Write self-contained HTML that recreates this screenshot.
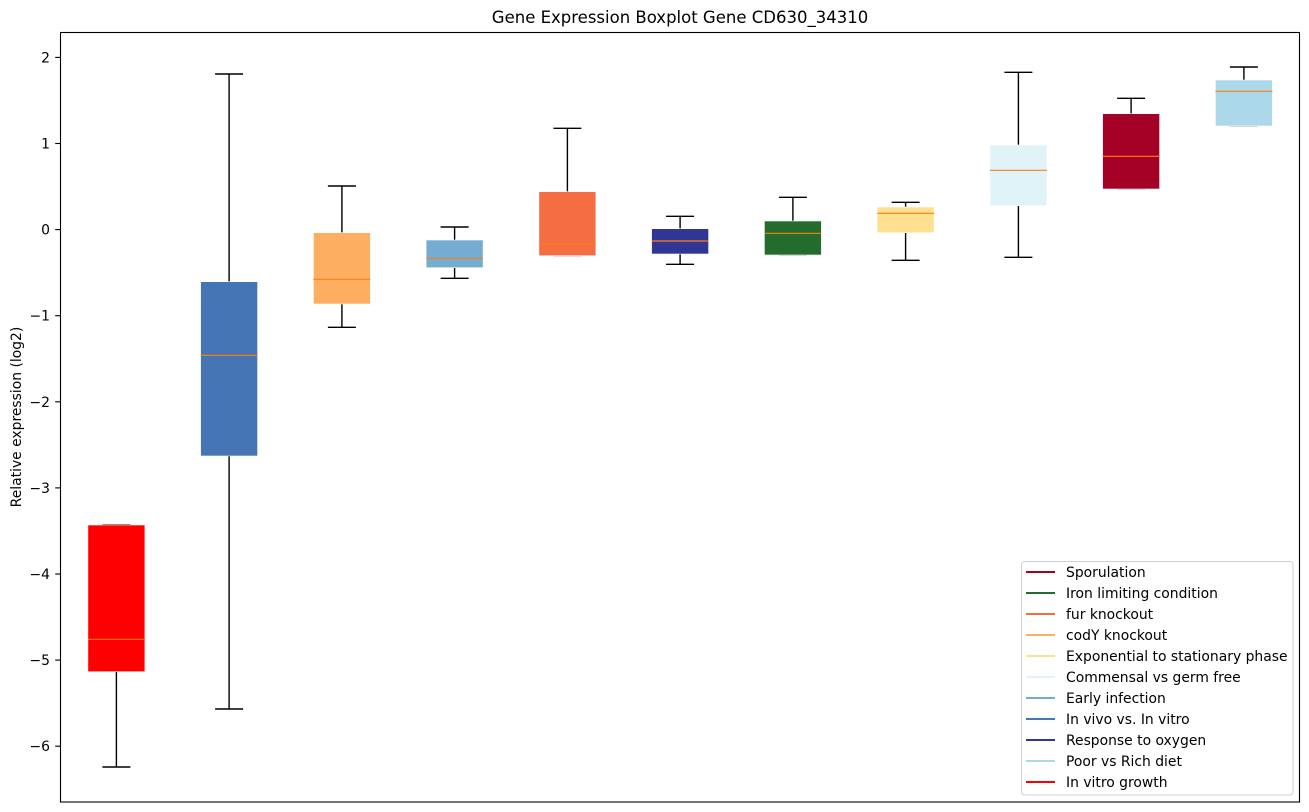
<!DOCTYPE html>
<html>
<head>
<meta charset="utf-8">
<style>
html,body{margin:0;padding:0;background:#fff;}
svg{display:block;}
text{font-family:"DejaVu Sans","Liberation Sans",sans-serif;fill:#000;}
</style>
</head>
<body>
<svg width="1309" height="812" viewBox="0 0 1309 812" xmlns="http://www.w3.org/2000/svg">
<rect width="1309" height="812" fill="#fff"/>
<!-- title -->
<text x="680" y="23" font-size="16.5" text-anchor="middle">Gene Expression Boxplot Gene CD630_34310</text>
<!-- y label -->
<text transform="translate(21,417) rotate(-90)" font-size="13.9" text-anchor="middle">Relative expression (log2)</text>

<!-- y ticks -->
<g stroke="#000" stroke-width="1.1">
<line x1="55.2" y1="57.4" x2="60" y2="57.4"/>
<line x1="55.2" y1="143.5" x2="60" y2="143.5"/>
<line x1="55.2" y1="229.6" x2="60" y2="229.6"/>
<line x1="55.2" y1="315.7" x2="60" y2="315.7"/>
<line x1="55.2" y1="401.8" x2="60" y2="401.8"/>
<line x1="55.2" y1="487.9" x2="60" y2="487.9"/>
<line x1="55.2" y1="574.0" x2="60" y2="574.0"/>
<line x1="55.2" y1="660.1" x2="60" y2="660.1"/>
<line x1="55.2" y1="746.2" x2="60" y2="746.2"/>
</g>
<g font-size="13.9" text-anchor="end">
<text x="50" y="62.4">2</text>
<text x="50" y="148.5">1</text>
<text x="50" y="234.6">0</text>
<text x="50" y="320.7">−1</text>
<text x="50" y="406.8">−2</text>
<text x="50" y="492.9">−3</text>
<text x="50" y="579.0">−4</text>
<text x="50" y="665.1">−5</text>
<text x="50" y="751.2">−6</text>
</g>

<!-- whiskers and caps -->
<g stroke="#000" stroke-width="1.4" fill="none">
<!-- 1 -->
<line x1="116.4" y1="671.7" x2="116.4" y2="767"/>
<line x1="102.4" y1="767" x2="130.4" y2="767"/>
<line x1="102.4" y1="525" x2="130.4" y2="525"/>
<!-- 2 -->
<line x1="229.1" y1="74" x2="229.1" y2="709"/>
<line x1="215.1" y1="74" x2="243.1" y2="74"/>
<line x1="215.1" y1="709" x2="243.1" y2="709"/>
<!-- 3 -->
<line x1="341.9" y1="186" x2="341.9" y2="327.3"/>
<line x1="327.9" y1="186" x2="355.9" y2="186"/>
<line x1="327.9" y1="327.3" x2="355.9" y2="327.3"/>
<!-- 4 -->
<line x1="454.6" y1="227" x2="454.6" y2="278.3"/>
<line x1="440.6" y1="227" x2="468.6" y2="227"/>
<line x1="440.6" y1="278.3" x2="468.6" y2="278.3"/>
<!-- 5 -->
<line x1="567.4" y1="128.3" x2="567.4" y2="255.7"/>
<line x1="553.4" y1="128.3" x2="581.4" y2="128.3"/>
<line x1="553.4" y1="255.7" x2="581.4" y2="255.7" stroke="#aaa"/>
<!-- 6 -->
<line x1="680.1" y1="216.3" x2="680.1" y2="264.3"/>
<line x1="666.1" y1="216.3" x2="694.1" y2="216.3"/>
<line x1="666.1" y1="264.3" x2="694.1" y2="264.3"/>
<!-- 7 -->
<line x1="792.9" y1="197.3" x2="792.9" y2="255"/>
<line x1="778.9" y1="197.3" x2="806.9" y2="197.3"/>
<line x1="778.9" y1="255" x2="806.9" y2="255" stroke="#aaa"/>
<!-- 8 -->
<line x1="905.6" y1="202.3" x2="905.6" y2="260.3"/>
<line x1="891.6" y1="202.3" x2="919.6" y2="202.3"/>
<line x1="891.6" y1="260.3" x2="919.6" y2="260.3"/>
<!-- 9 -->
<line x1="1018.4" y1="72.3" x2="1018.4" y2="257.3"/>
<line x1="1004.4" y1="72.3" x2="1032.4" y2="72.3"/>
<line x1="1004.4" y1="257.3" x2="1032.4" y2="257.3"/>
<!-- 10 -->
<line x1="1131.1" y1="98.3" x2="1131.1" y2="189"/>
<line x1="1117.1" y1="98.3" x2="1145.1" y2="98.3"/>
<line x1="1117.1" y1="189" x2="1145.1" y2="189" stroke="#aaa"/>
<!-- 11 -->
<line x1="1243.9" y1="67" x2="1243.9" y2="126"/>
<line x1="1229.9" y1="67" x2="1257.9" y2="67"/>
<line x1="1229.9" y1="126" x2="1257.9" y2="126" stroke="#aaa"/>
</g>

<!-- boxes -->
<g stroke="#fff" stroke-width="0.6">
<rect x="87.9" y="525" width="57" height="146.7" fill="#ff0000"/>
<rect x="200.6" y="281.7" width="57" height="174.3" fill="#4575b4"/>
<rect x="313.4" y="232.7" width="57" height="71.3" fill="#fdae61"/>
<rect x="426.1" y="240" width="57" height="27.7" fill="#74add1"/>
<rect x="538.9" y="191.7" width="57" height="64" fill="#f46d43"/>
<rect x="651.6" y="228.7" width="57" height="25.3" fill="#313695"/>
<rect x="764.4" y="221" width="57" height="34" fill="#236c2d"/>
<rect x="877.1" y="207" width="57" height="25.7" fill="#fee090"/>
<rect x="989.9" y="145" width="57" height="60.7" fill="#e0f3f8"/>
<rect x="1102.6" y="113.7" width="57" height="75.3" fill="#a50026"/>
<rect x="1215.4" y="80" width="57" height="46" fill="#abd9e9"/>
</g>

<!-- medians -->
<g stroke="#ff7f0e" stroke-width="1.2">
<line x1="87.9" y1="639.3" x2="144.9" y2="639.3"/>
<line x1="200.6" y1="355.3" x2="257.6" y2="355.3"/>
<line x1="313.4" y1="279.3" x2="370.4" y2="279.3"/>
<line x1="426.1" y1="258.3" x2="483.1" y2="258.3"/>
<line x1="538.9" y1="244.3" x2="595.9" y2="244.3"/>
<line x1="651.6" y1="241" x2="708.6" y2="241"/>
<line x1="764.4" y1="233.3" x2="821.4" y2="233.3"/>
<line x1="877.1" y1="213.3" x2="934.1" y2="213.3"/>
<line x1="989.9" y1="170.3" x2="1046.9" y2="170.3"/>
<line x1="1102.6" y1="156.3" x2="1159.6" y2="156.3"/>
<line x1="1215.4" y1="91.3" x2="1272.4" y2="91.3"/>
</g>

<!-- axes frame -->
<rect x="60.5" y="32.5" width="1239" height="769.5" fill="none" stroke="#000" stroke-width="1.1"/>

<!-- legend -->
<rect x="1021.5" y="561.5" width="271.5" height="233.5" rx="3" ry="3" fill="#fff" fill-opacity="0.85" stroke="#d0d0d0" stroke-width="1"/>
<g stroke-width="2">
<line x1="1026" y1="572" x2="1055" y2="572" stroke="#a50026"/>
<line x1="1026" y1="593" x2="1055" y2="593" stroke="#236c2d"/>
<line x1="1026" y1="614" x2="1055" y2="614" stroke="#f46d43"/>
<line x1="1026" y1="635" x2="1055" y2="635" stroke="#fdae61"/>
<line x1="1026" y1="656" x2="1055" y2="656" stroke="#fee090"/>
<line x1="1026" y1="677" x2="1055" y2="677" stroke="#e0f3f8"/>
<line x1="1026" y1="698" x2="1055" y2="698" stroke="#74add1"/>
<line x1="1026" y1="719" x2="1055" y2="719" stroke="#4575b4"/>
<line x1="1026" y1="740" x2="1055" y2="740" stroke="#313695"/>
<line x1="1026" y1="761" x2="1055" y2="761" stroke="#abd9e9"/>
<line x1="1026" y1="782" x2="1055" y2="782" stroke="#ff0000"/>
</g>
<g font-size="13.9">
<text x="1066" y="577">Sporulation</text>
<text x="1066" y="598">Iron limiting condition</text>
<text x="1066" y="619">fur knockout</text>
<text x="1066" y="640">codY knockout</text>
<text x="1066" y="661">Exponential to stationary phase</text>
<text x="1066" y="682">Commensal vs germ free</text>
<text x="1066" y="703">Early infection</text>
<text x="1066" y="724">In vivo vs. In vitro</text>
<text x="1066" y="745">Response to oxygen</text>
<text x="1066" y="766">Poor vs Rich diet</text>
<text x="1066" y="787">In vitro growth</text>
</g>
</svg>
</body>
</html>
